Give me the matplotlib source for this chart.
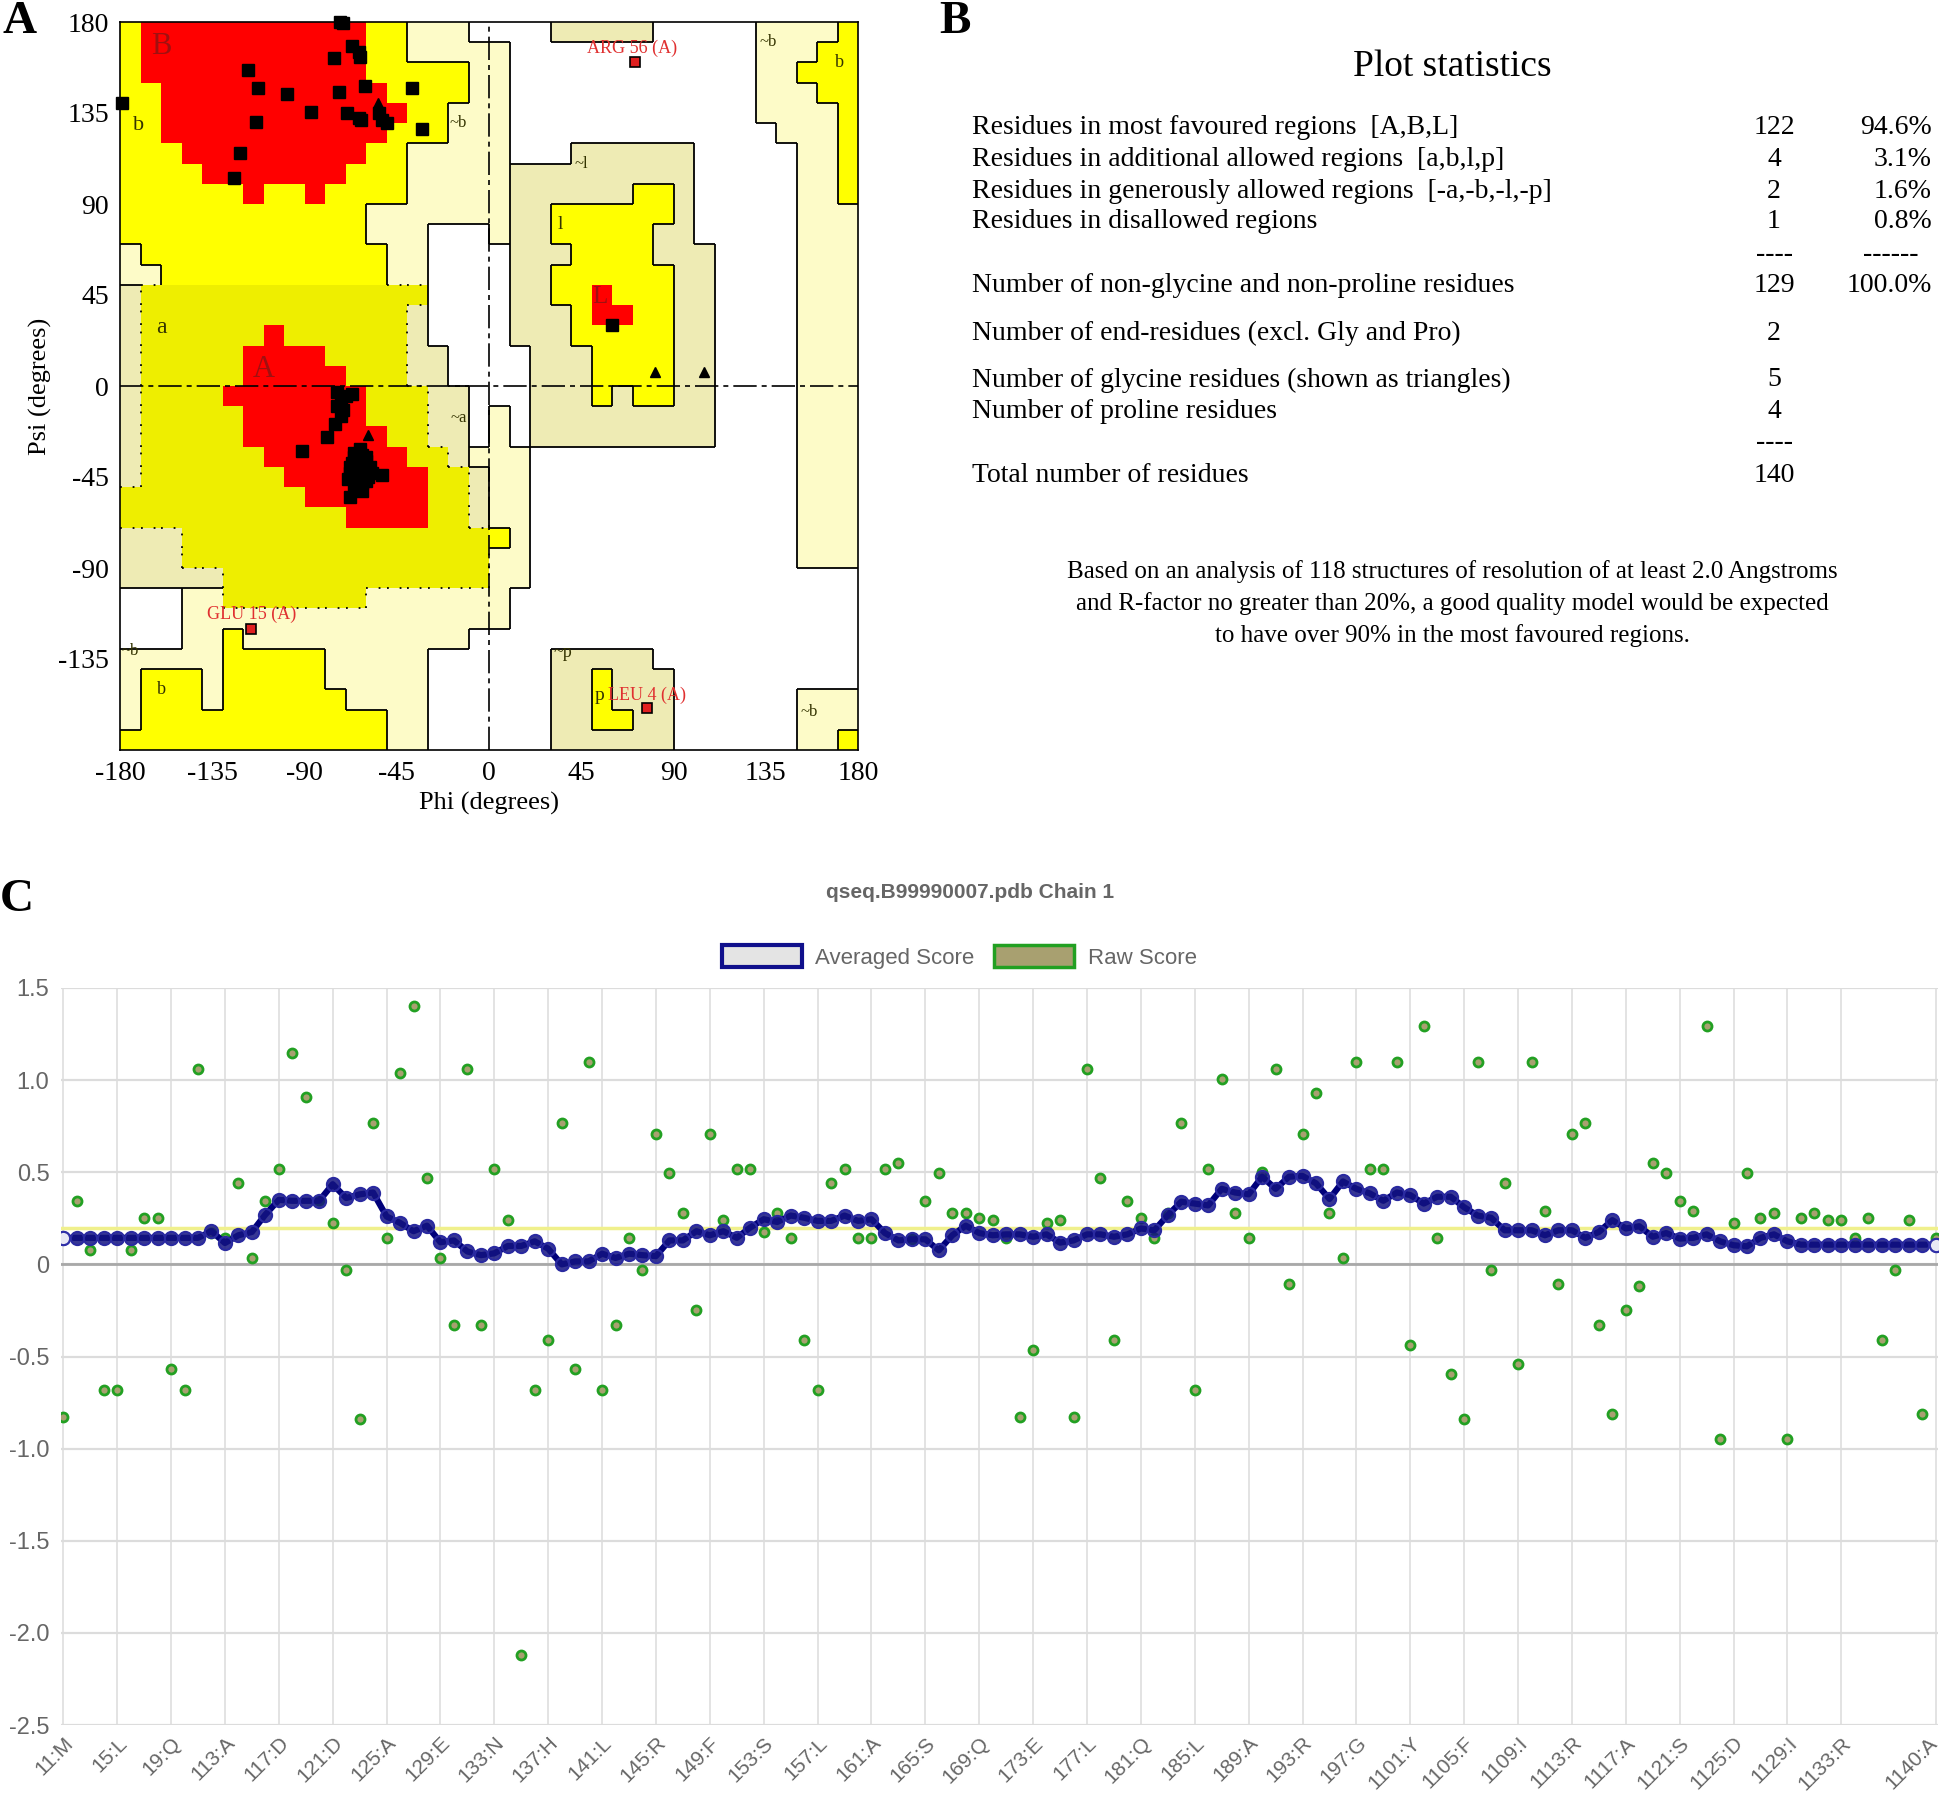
import re
import matplotlib.pyplot as plt
import numpy as np
from matplotlib.collections import LineCollection
from matplotlib.colors import ListedColormap
from matplotlib.patches import Patch
from matplotlib.transforms import ScaledTranslation

plt.rcParams['font.family'] = ['Liberation Serif', 'DejaVu Serif']
plt.rcParams['axes.unicode_minus'] = False

# ---------------- panel A: Ramachandran plot ----------------
# region map, 10 degree cells, run-length coded; first row is psi 170..180,
# columns go phi -180..180.  W white, C cream, E beige, Y yellow, O olive yellow, R red
region_rows = [
    "Y1R11Y2C3W4E5W5C4Y1",
    "Y1R11Y2C5W12C3Y2",
    "Y1R11Y5C2W12C2Y3",
    "Y2R11Y4C2W12C3Y2",
    "Y2R12Y2C3W12C4Y1",
    "Y2R11Y3C3W13C3Y1",
    "Y3R9Y2C5W3E6W5C2Y1",
    "Y4R7Y3C5E9W5C2Y1",
    "Y6R1Y2R1Y4C5E6Y2E1W5C2Y1",
    "Y12C7E2Y6E1W5C3",
    "Y12C3W3C1E2Y5E2W5C3",
    "C1Y12C2W4E3Y4E3W4C3",
    "C2Y11C2W4E2Y6E2W4C3",
    "E1O14W4E2Y2R1Y3E2W4C3",
    "E1O13E1W4E3Y1R2Y2E2W4C3",
    "E1O6R1O6E1W4E3Y5E2W4C3",
    "E1O5R4O4E2W4E3Y4E2W4C3",
    "E1O5R5O3E2W4E3Y4E2W4C3",
    "E1O4R7O3E2W3E3Y1E1Y2E2W4C3",
    "E1O5R6O3E2W1C1W1E9W4C3",
    "E1O5R7O2E2W1C1W1E9W4C3",
    "E1O6R7O2E1C3W13C3",
    "E1O7R7O2E1C2W13C3",
    "O9R6O2E1C2W13C3",
    "O11R4O2E1C2W13C3",
    "E3O15Y1C1W13C3",
    "E3O15C2W13C3",
    "E5O13C2W16",
    "W3C2O7C7W17",
    "W3C16W17",
    "W3C2Y1C11W19",
    "C5Y5C5W6E5W10",
    "C1Y3C1Y5C5W6E2Y1E3W9",
    "C1Y3C1Y6C4W6E2Y1E3W6C3",
    "C1Y12C2W6E2Y2E2W6C3",
    "Y13C2W6E6W6C2Y1",
]
region_codes = 'WCEYOR'
region_colors = ['#ffffff', '#fdfbc8', '#eeebb4', '#ffff00', '#eeee00', '#ff0000']

beta_phi = [-72.5, -71, -67, -63.6, -62.7, -75.6, -117.4, -60.5, -112.7, -98.3, -73, -37.7,
            -179, -87, -69.5, -63.6, -62.2, -53.5, -52, -50, -113.8, -32.7, -121.6, -124.4]
beta_psi = [180, 179.5, 168, 165, 162.5, 162, 156.5, 148.4, 147.4, 144.3, 145.3, 147.4,
            140, 135.6, 134.9, 132.5, 131.7, 134.9, 131.7, 130, 130.4, 127.3, 115.3, 103]
helix_phi = [-66, -64, -62, -60, -63, -65, -67, -61, -59, -64, -62, -66, -68, -60, -63, -65,
             -61, -58, -64, -67, -62, -60, -65, -63, -69, -57, -62, -64, -66, -61, -63, -59,
             -65, -62, -68, -60, -64, -63, -61, -66,
             -74, -72, -70, -67, -74, -71, -72, -75, -79, -91, -52, -68, 60]
helix_psi = [-38, -40, -42, -44, -36, -45, -41, -39, -41, -47, -34, -33, -43, -37, -50, -48,
             -46, -40, -43, -38, -39, -35, -42, -44, -46, -43, -48, -36, -49, -42, -31, -45,
             -37, -52, -40, -47, -41, -39, -38, -35,
             -3, -6, -5, -4, -10, -12, -15, -19, -25, -32, -44, -55, 30]
gly_phi = [-54, -59, 81, 105]
gly_psi = [140, -24, 7, 7]
out_names = ['ARG 56 (A)', 'GLU 15 (A)', 'LEU 4 (A)']
out_phi = [71, -116, 77]
out_psi = [160, -120, -159]
out_label_pos = [(70, 167), (-116, -113), (77, -153)]

region_labels = [('B', -160, 168, 22, '#a01010'), ('b', -171, 129, 16, '#333300'),
                 ('A', -110, 8, 22, '#a01010'), ('a', -160, 29, 17, '#333300'),
                 ('L', 54, 44, 18, '#a01010'), ('l', 35, 80, 14, '#333300'),
                 ('~b', -15, 130, 12, '#333300'), ('~a', -15, -16, 12, '#333300'),
                 ('~l', 45, 110, 12, '#333300'), ('~p', 36, -132, 13, '#333300'),
                 ('p', 54, -153, 14, '#333300'), ('~b', 136, 170, 12, '#333300'),
                 ('b', 171, 160, 13, '#333300'), ('~b', -175, -131, 12, '#333300'),
                 ('b', -160, -150, 13, '#333300'), ('~b', 156, -161, 12, '#333300')]

# ---------------- panel B: statistics ----------------
stat_rows = [
    ('Residues in most favoured regions  [A,B,L]', '122', '94.6%', 128),
    ('Residues in additional allowed regions  [a,b,l,p]', '4', '3.1%', 160),
    ('Residues in generously allowed regions  [-a,-b,-l,-p]', '2', '1.6%', 191),
    ('Residues in disallowed regions', '1', '0.8%', 222),
    ('', '----', '------', 254),
    ('Number of non-glycine and non-proline residues', '129', '100.0%', 285),
    ('Number of end-residues (excl. Gly and Pro)', '2', '', 333),
    ('Number of glycine residues (shown as triangles)', '5', '', 380),
    ('Number of proline residues', '4', '', 412),
    ('', '----', '', 443),
    ('Total number of residues', '140', '', 475),
]
note_lines = ['Based on an analysis of 118 structures of resolution of at least 2.0 Angstroms',
              'and R-factor no greater than 20%, a good quality model would be expected',
              'to have over 90% in the most favoured regions.']

# ---------------- panel C: scores ----------------
raw_score = [-0.83, 0.345, 0.076, -0.68, -0.68, 0.076, 0.25, 0.25, -0.57, -0.68,
             1.06, 0.17, 0.144, 0.44, 0.035, 0.345, 0.515, 1.145, 0.91, 0.35,
             0.227, -0.029, -0.84, 0.77, 0.144, 1.04, 1.40, 0.47, 0.035, -0.33,
             1.06, -0.33, 0.515, 0.239, -2.12, -0.68, -0.41, 0.77, -0.57, 1.10,
             -0.68, -0.33, 0.144, -0.03, 0.71, 0.495, 0.28, -0.25, 0.71, 0.24,
             0.515, 0.515, 0.173, 0.28, 0.144, -0.41, -0.68, 0.44, 0.515, 0.144,
             0.144, 0.515, 0.55, 0.14, 0.345, 0.495, 0.28, 0.28, 0.25, 0.24,
             0.144, -0.83, -0.466, 0.227, 0.24, -0.83, 1.06, 0.47, -0.41, 0.345,
             0.25, 0.144, 0.28, 0.77, -0.68, 0.515, 1.007, 0.28, 0.144, 0.5,
             1.06, -0.104, 0.71, 0.93, 0.28, 0.035, 1.10, 0.515, 0.515, 1.10,
             -0.435, 1.295, 0.144, -0.595, -0.84, 1.10, -0.03, 0.44, -0.54, 1.10,
             0.29, -0.104, 0.71, 0.77, -0.33, -0.81, -0.25, -0.115, 0.55, 0.495,
             0.345, 0.29, 1.295, -0.947, 0.227, 0.495, 0.25, 0.28, -0.947, 0.25,
             0.28, 0.24, 0.24, 0.144, 0.25, -0.41, -0.03, 0.24, -0.81, 0.144]
avg_score = [0.144, 0.144, 0.144, 0.144, 0.144, 0.144, 0.144, 0.144, 0.144, 0.144,
             0.144, 0.18, 0.116, 0.158, 0.176, 0.27, 0.35, 0.345, 0.345, 0.345,
             0.435, 0.36, 0.38, 0.39, 0.26, 0.225, 0.18, 0.21, 0.12, 0.13,
             0.07, 0.05, 0.06, 0.10, 0.10, 0.125, 0.085, 0.0, 0.016, 0.016,
             0.058, 0.035, 0.058, 0.05, 0.045, 0.13, 0.13, 0.18, 0.158, 0.18,
             0.144, 0.20, 0.245, 0.23, 0.265, 0.253, 0.236, 0.236, 0.265, 0.236,
             0.245, 0.17, 0.13, 0.136, 0.136, 0.076, 0.158, 0.21, 0.17, 0.158,
             0.163, 0.163, 0.15, 0.163, 0.118, 0.13, 0.163, 0.163, 0.15, 0.163,
             0.195, 0.185, 0.267, 0.34, 0.33, 0.32, 0.41, 0.39, 0.38, 0.476,
             0.41, 0.476, 0.48, 0.44, 0.355, 0.45, 0.41, 0.385, 0.345, 0.39,
             0.376, 0.33, 0.367, 0.367, 0.31, 0.265, 0.253, 0.185, 0.185, 0.185,
             0.158, 0.185, 0.185, 0.144, 0.176, 0.24, 0.195, 0.207, 0.15, 0.17,
             0.14, 0.144, 0.163, 0.125, 0.104, 0.098, 0.144, 0.163, 0.125, 0.107,
             0.107, 0.107, 0.107, 0.107, 0.107, 0.107, 0.107, 0.107, 0.107, 0.107]
threshold = 0.2
tick_res = [1, 5, 9, 13, 17, 21, 25, 29, 33, 37, 41, 45, 49, 53, 57, 61, 65, 69,
            73, 77, 81, 85, 89, 93, 97, 101, 105, 109, 113, 117, 121, 125, 129, 133, 140]
tick_aa = ['M', 'L', 'Q', 'A', 'D', 'D', 'A', 'E', 'N', 'H', 'L', 'R', 'F', 'S', 'L', 'A', 'S', 'Q',
           'E', 'L', 'Q', 'L', 'A', 'R', 'G', 'Y', 'F', 'I', 'R', 'A', 'S', 'D', 'I', 'R', 'A']


def decode(row):
    out = ''
    for ch, n in re.findall(r'([A-Z])(\d+)', row):
        out += ch * int(n)
    return out


def edge_style(a, b):
    a, b = region_codes[a], region_codes[b]
    if a == b or 'R' in (a, b):
        return None
    pair = {a, b}
    if pair == {'Y', 'O'}:
        return None
    if pair in ({'O', 'E'}, {'O', 'C'}):
        return 'dot'
    return 'solid'


W, H = 1944, 1804
fig = plt.figure(figsize=(W / 100, H / 100), dpi=100)

# ---- A
axA = fig.add_axes([120 / W, 1 - 750 / H, 738 / W, 728 / H])
grid = np.array([[region_codes.index(c) for c in decode(r)] for r in region_rows])[::-1]
edges = np.arange(-180, 181, 10)
axA.pcolormesh(edges, edges, grid, cmap=ListedColormap(region_colors), vmin=-0.5, vmax=5.5)

solid, dotted = [], []
for i in range(36):
    for j in range(36):
        if j < 35:
            s = edge_style(grid[i, j], grid[i, j + 1])
            seg = [(edges[j + 1], edges[i]), (edges[j + 1], edges[i + 1])]
            if s == 'solid':
                solid.append(seg)
            elif s == 'dot':
                dotted.append(seg)
        if i < 35:
            s = edge_style(grid[i, j], grid[i + 1, j])
            seg = [(edges[j], edges[i + 1]), (edges[j + 1], edges[i + 1])]
            if s == 'solid':
                solid.append(seg)
            elif s == 'dot':
                dotted.append(seg)
axA.add_collection(LineCollection(solid, colors='black', linewidths=1.3))
axA.add_collection(LineCollection(dotted, colors='black', linewidths=1.3, linestyles=(0, (1, 6))))

axA.axvline(0, color='black', lw=1.2, ls=(0, (14, 3, 3, 3)))
axA.axhline(0, color='black', lw=1.2, ls=(0, (14, 3, 3, 3)))

for txt, x, y, size, col in region_labels:
    axA.text(x, y, txt, fontsize=size, color=col, ha='center', va='center')

axA.plot(beta_phi, beta_psi, 's', color='black', ms=8, ls='none', clip_on=False)
axA.plot(helix_phi, helix_psi, 's', color='black', ms=8, ls='none')
axA.plot(gly_phi, gly_psi, '^', color='black', ms=7, ls='none')
axA.plot(out_phi, out_psi, 's', mfc='#e02020', mec='black', mew=1.2, ms=7, ls='none')
for name, (lx, ly) in zip(out_names, out_label_pos):
    axA.text(lx, ly, name, fontsize=13, color='#e03030', ha='center', va='center')

axA.set_xlim(-180, 180)
axA.set_ylim(-180, 180)
axA.set_xticks(np.arange(-180, 181, 45))
axA.set_yticks(np.arange(-135, 181, 45))
axA.tick_params(length=0, labelsize=20, pad=8)
axA.set_xlabel('Phi (degrees)', fontsize=19, labelpad=4)
axA.set_ylabel('Psi (degrees)', fontsize=19, labelpad=4)
for sp in axA.spines.values():
    sp.set_linewidth(1.2)

# ---- B
fig.text(939 / W, 1 - 22 / H, 'B', fontsize=34, fontweight='bold', va='center')
fig.text(1452 / W, 1 - 67 / H, 'Plot statistics', fontsize=27, ha='center', va='center')
for label, cnt, pct, y in stat_rows:
    fig.text(972 / W, 1 - y / H, label, fontsize=20, va='center')
    fig.text(1774 / W, 1 - y / H, cnt, fontsize=20, va='center', ha='center')
    if pct == '------':
        fig.text(1891 / W, 1 - y / H, pct, fontsize=20, va='center', ha='center')
    elif pct:
        fig.text(1932 / W, 1 - y / H, pct, fontsize=20, va='center', ha='right')
for k, line in enumerate(note_lines):
    fig.text(1452 / W, 1 - (572 + 32 * k) / H, line, fontsize=18, ha='center', va='center')

# ---- A letter
fig.text(2 / W, 1 - 22 / H, 'A', fontsize=34, fontweight='bold', va='center')

# ---- C
fig.text(0 / W, 1 - 900 / H, 'C', fontsize=34, fontweight='bold', va='center')
res = np.arange(1, len(avg_score) + 1)
axC = fig.add_axes([60.6 / W, 1 - 1725 / H, 1877.7 / W, 737 / H])
axC.axhline(threshold, color='#f0f08c', lw=2.5, zorder=2)
axC.axhline(0, color='#a8a8a8', lw=2, zorder=1.5)
axC.plot(res, raw_score, ls='none', marker='o', ms=6.5, mfc='#a8a070', mec='#22a022', mew=2, zorder=2.5)
axC.plot(res, avg_score, color='#00007a', lw=4.5, marker='o', ms=9.5,
         mfc=(0.08, 0.08, 0.5, 0.85), mec='#2a2aa0', mew=1.5, zorder=3)
axC.plot([res[0], res[-1]], [avg_score[0], avg_score[-1]], ls='none', marker='o', ms=9.5,
         mfc='#e8e8f4', mec='#3030a8', mew=1.5, zorder=3.5)

axC.set_xlim(0.8, 140.2)
axC.set_ylim(-2.5, 1.5)
yt = np.arange(-2.5, 1.51, 0.5)
axC.set_yticks(yt)
axC.set_yticklabels(['0' if abs(v) < 1e-9 else f'{v:.1f}' for v in yt],
                    family='Liberation Sans', fontsize=17, color='#666666')
axC.set_xticks(tick_res)
axC.set_xticklabels([f'1{r}:{a}' for r, a in zip(tick_res, tick_aa)], rotation=45, ha='right',
                    rotation_mode='anchor', family='Liberation Sans', fontsize=15, color='#666666')
axC.tick_params(axis='y', length=0, pad=8)
axC.tick_params(axis='x', length=0, pad=6)
# keep the last rotated label inside the picture
last = axC.get_xticklabels()[-1]
last.set_transform(last.get_transform() + ScaledTranslation(-0.08, 0, fig.dpi_scale_trans))
axC.grid(axis='x', color='#e0e0e0', lw=1.3, zorder=0)
axC.grid(axis='y', color='#dcdcdc', lw=1.6, zorder=0)
axC.set_axisbelow(True)
for sp in axC.spines.values():
    sp.set_visible(False)

fig.text(970 / W, 1 - 893 / H, 'qseq.B99990007.pdb Chain 1', fontsize=15, fontweight='bold',
         family='Liberation Sans', color='#666666', ha='center', va='center')
handles = [Patch(facecolor='#e4e4e4', edgecolor='#10108c', linewidth=3, label='Averaged Score'),
           Patch(facecolor='#a8a070', edgecolor='#22a022', linewidth=2.5, label='Raw Score')]
axC.legend(handles=handles, loc='center', bbox_to_anchor=(0.4785, 1.042), ncol=2, frameon=False,
           handlelength=3.6, handleheight=1.1, handletextpad=0.6, columnspacing=0.9,
           prop={'family': 'Liberation Sans', 'size': 16}, labelcolor='#666666')

fig.savefig('out.png', dpi=100)
